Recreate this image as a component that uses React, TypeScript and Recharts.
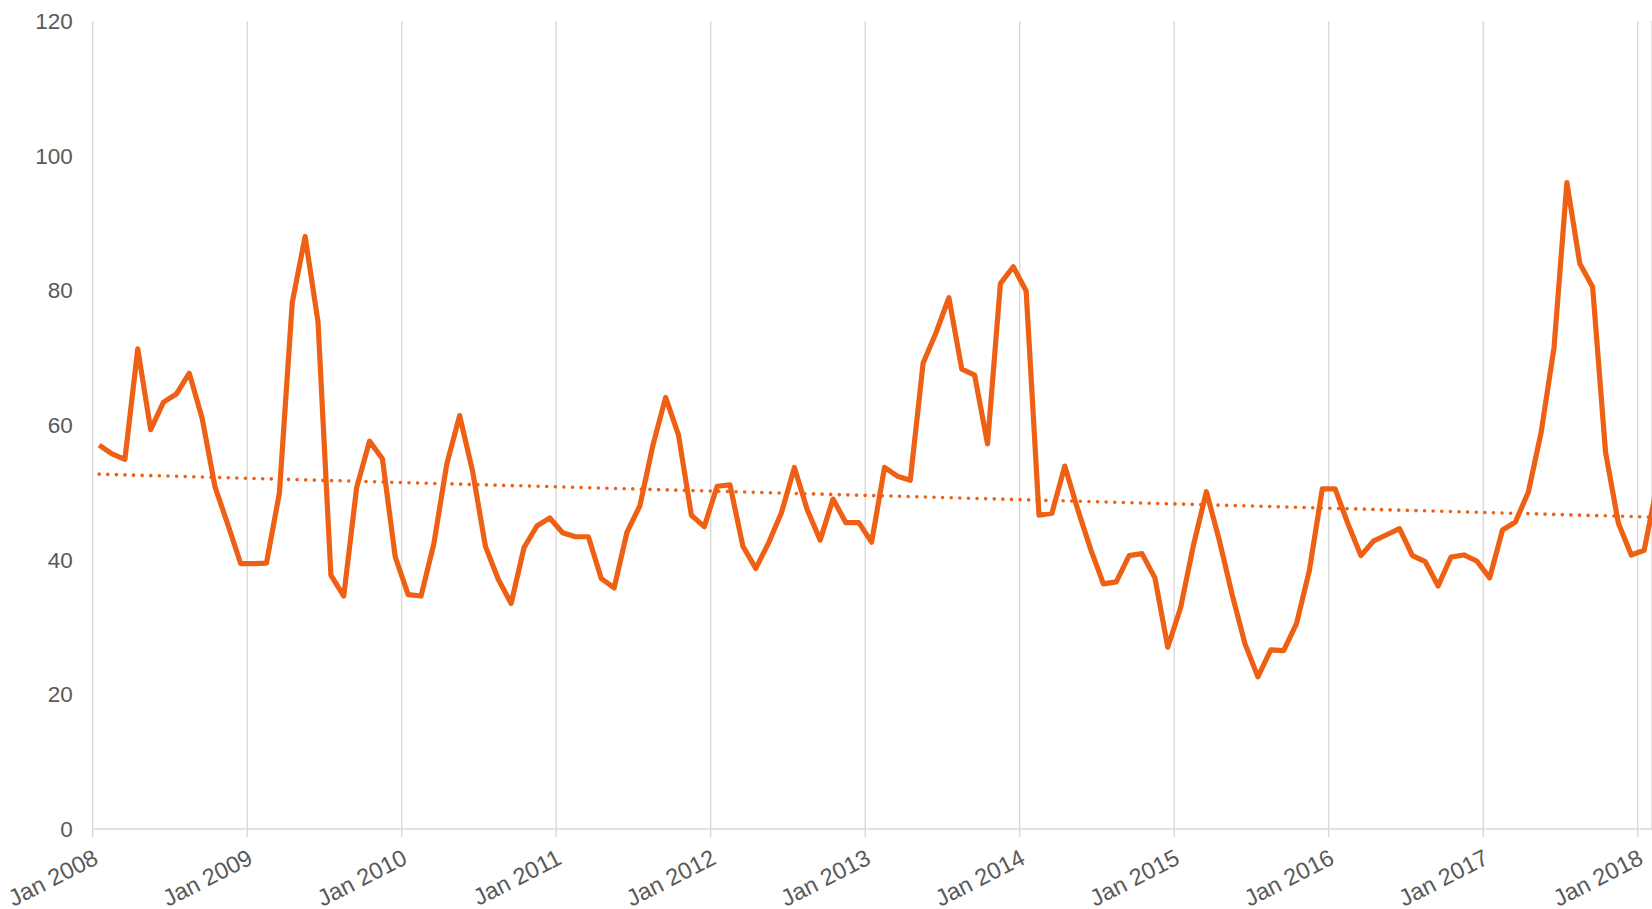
import React from "react";
import { LineChart, Line, XAxis, YAxis, CartesianGrid } from "recharts";

// Monthly values, Jan 2008 .. Feb 2018
const values2008 = [57.0, 55.7, 54.9, 71.3, 59.3, 63.4, 64.6, 67.7, 61.0, 50.8, 45.2, 39.4];
const values2009 = [39.4, 39.5, 49.9, 78.2, 88.0, 75.3, 37.7, 34.6, 50.7, 57.6, 55.0, 40.4];
const values2010 = [34.8, 34.6, 42.4, 54.2, 61.4, 53.2, 42.0, 37.1, 33.5, 41.8, 45.0, 46.2];
const values2011 = [44.0, 43.4, 43.4, 37.2, 35.8, 44.1, 48.0, 56.9, 64.1, 58.5, 46.6, 44.9];
const values2012 = [50.9, 51.1, 42.0, 38.7, 42.5, 47.0, 53.7, 47.4, 42.9, 49.0, 45.5, 45.5];
const values2013 = [42.6, 53.7, 52.4, 51.8, 69.2, 73.7, 78.9, 68.3, 67.4, 57.2, 81.0, 83.5];
const values2014 = [79.9, 46.6, 46.9, 53.9, 47.5, 41.6, 36.4, 36.7, 40.6, 40.9, 37.3, 27.0];
const values2015 = [32.9, 42.2, 50.1, 42.9, 34.8, 27.5, 22.6, 26.6, 26.5, 30.5, 38.4, 50.5];
const values2016 = [50.5, 45.3, 40.6, 42.8, 43.7, 44.6, 40.6, 39.7, 36.1, 40.4, 40.7, 39.8];
const values2017 = [37.3, 44.4, 45.6, 50.0, 58.9, 71.5, 96.0, 84.0, 80.5, 56.0, 45.4, 40.7];
const values2018 = [41.4, 51.0];

const monthlyValues = [
  ...values2008, ...values2009, ...values2010, ...values2011, ...values2012,
  ...values2013, ...values2014, ...values2015, ...values2016, ...values2017, ...values2018,
];

// Linear trend line end values (first month, last month)
const trendStart = 52.7;
const trendEnd = 46.3;

const xTicks = [0, 12, 24, 36, 48, 60, 72, 84, 96, 108, 120];
const tickLabels = ["Jan 2008", "Jan 2009", "Jan 2010", "Jan 2011", "Jan 2012", "Jan 2013", "Jan 2014", "Jan 2015", "Jan 2016", "Jan 2017", "Jan 2018"];
const yTicks = [0, 20, 40, 60, 80, 100, 120];

const lineData = monthlyValues.map((v, i) => ({ x: i + 0.5, value: v }));
const trendData = [
  { x: 0.5, trend: trendStart },
  { x: monthlyValues.length - 0.5, trend: trendEnd },
];

const FONT = "'Liberation Sans', Arial, sans-serif";
const ORANGE = "#EE6014";
const GRID = "#D9D9D9";
const TEXT = "#595959";

const XTick = (props: any) => {
  const { x, y, payload } = props;
  const idx = xTicks.indexOf(payload.value);
  const label = idx >= 0 ? tickLabels[idx] : "";
  return (
    <g transform={`translate(${x + 7},${y + 26})`}>
      <text
        x={0}
        y={0}
        textAnchor="end"
        transform="rotate(-27)"
        fill={TEXT}
        fontSize={23.5}
        fontFamily={FONT}
      >
        {label}
      </text>
    </g>
  );
};

export default function App() {
  return (
    <div style={{ position: "fixed", left: 0, top: 0, width: 1652, height: 909, background: "#fff" }}>
      <LineChart
        width={1652}
        height={909}
        data={lineData}
        margin={{ top: 21, right: 0, bottom: 0, left: 0 }}
      >
        <CartesianGrid vertical horizontal={false} stroke={GRID} strokeWidth={1.4} />
        <XAxis
          type="number"
          dataKey="x"
          domain={[0, 121.11]}
          ticks={xTicks}
          allowDataOverflow
          interval={0}
          height={80}
          tickSize={8}
          tickMargin={0}
          axisLine={{ stroke: GRID, strokeWidth: 1.4 }}
          tickLine={{ stroke: GRID, strokeWidth: 1.4 }}
          tick={<XTick />}
        />
        <YAxis
          type="number"
          domain={[0, 120]}
          ticks={yTicks}
          width={92.7}
          axisLine={false}
          tickLine={false}
          tickSize={6}
          tickMargin={14}
          tick={{ fill: TEXT, fontSize: 22.5, fontFamily: FONT }}
        />
        <Line
          data={trendData}
          dataKey="trend"
          type="linear"
          stroke={ORANGE}
          strokeWidth={3.6}
          strokeDasharray="0.01 8.6"
          strokeLinecap="round"
          dot={false}
          activeDot={false}
          isAnimationActive={false}
        />
        <Line
          dataKey="value"
          type="linear"
          stroke={ORANGE}
          strokeWidth={5.2}
          strokeLinejoin="round"
          dot={false}
          activeDot={false}
          isAnimationActive={false}
        />
      </LineChart>
    </div>
  );
}
